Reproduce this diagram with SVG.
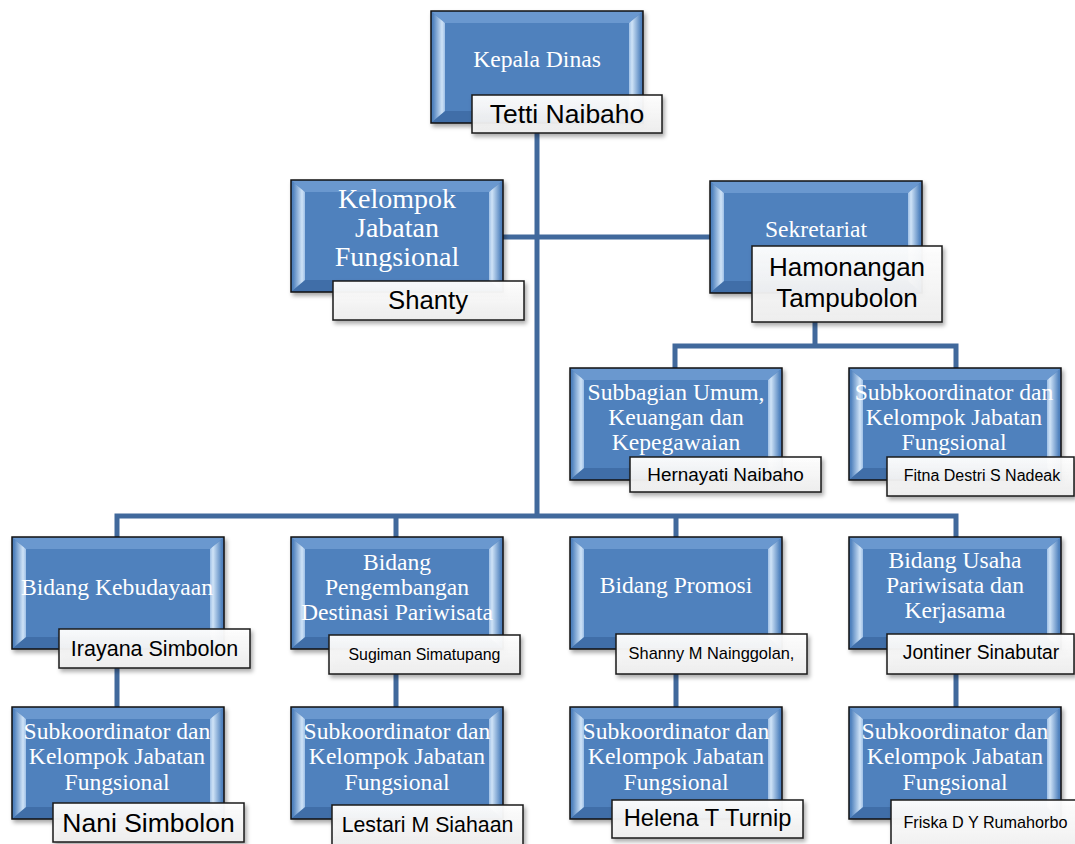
<svg xmlns="http://www.w3.org/2000/svg" xmlns:xlink="http://www.w3.org/1999/xlink" width="1075" height="844" viewBox="0 0 1075 844">
<style>
.conn{fill:none;stroke:#41699c;stroke-width:5;stroke-linejoin:miter;stroke-linecap:butt}
.bt{font-family:"Liberation Serif","Times New Roman",serif;font-size:23.6px;fill:#ffffff;text-anchor:middle}
.big{font-size:28px}
.lb{fill:url(#lg);stroke:#1a1a1a;stroke-width:1.5;filter:url(#sh)}
.lt{font-family:"Liberation Sans",Arial,sans-serif;fill:#000000;text-anchor:middle}
</style>
<defs>
<filter id="sh" x="-10%" y="-10%" width="130%" height="140%">
<feDropShadow dx="2" dy="3" stdDeviation="2" flood-color="#000" flood-opacity="0.35"/>
</filter>
<linearGradient id="lg" x1="0" y1="0" x2="0" y2="1">
<stop offset="0" stop-color="#ffffff" stop-opacity="0.96"/>
<stop offset="1" stop-color="#efefef" stop-opacity="0.92"/>
</linearGradient>
<linearGradient id="gL" x1="0" y1="0" x2="1" y2="0">
<stop offset="0" stop-color="#4f81bd"/>
<stop offset="0.75" stop-color="#cfe3f7"/>
<stop offset="1" stop-color="#9fc0e6"/>
</linearGradient>
<linearGradient id="gR" x1="0" y1="0" x2="1" y2="0">
<stop offset="0" stop-color="#9fc0e6"/>
<stop offset="0.25" stop-color="#cfe3f7"/>
<stop offset="1" stop-color="#4f81bd"/>
</linearGradient>
<g id="bx">
<rect x="0" y="0" width="212" height="112" fill="#4f81bd"/>
<polygon points="0,0 212,0 198,12 14,12" fill="#6a98cf"/>
<polygon points="0,112 212,112 198,100 14,100" fill="#3f6ea8"/>
<polygon points="2,2 14,12 14,100 2,110" fill="url(#gL)"/>
<polygon points="210,2 198,12 198,100 210,110" fill="url(#gR)"/>
<rect x="0" y="0" width="212" height="112" fill="none" stroke="#111111" stroke-width="1.5"/>
</g>
</defs>
<rect width="1075" height="844" fill="#ffffff"/>
<g id="connectors">
<path class="conn" d="M537,133 V516"/>
<path class="conn" d="M503,237 H710"/>
<path class="conn" d="M815,322 V346 M675,368 V346 H956 V368"/>
<path class="conn" d="M117,537 V516 H956 V537 M396,516 V537 M676,516 V537"/>
<path class="conn" d="M117,668 V707 M396,674 V707 M676,674 V707 M956,674 V707"/>
</g>
<g id="kepala-dinas">
<use href="#bx" x="431" y="11" filter="url(#sh)"/>
<text class="bt" x="537" y="67">Kepala Dinas</text>
<rect class="lb" x="472" y="95" width="190" height="38"/>
<text class="lt" x="567" y="123" font-size="26.5">Tetti Naibaho</text>
</g>
<g id="kelompok-jabatan-fungsional">
<use href="#bx" x="291" y="180" filter="url(#sh)"/>
<text class="bt big" x="397" y="208">Kelompok</text>
<text class="bt big" x="397" y="237">Jabatan</text>
<text class="bt big" x="397" y="266">Fungsional</text>
<rect class="lb" x="333" y="281" width="191" height="39"/>
<text class="lt" x="428" y="309" font-size="25.7">Shanty</text>
</g>
<g id="sekretariat">
<use href="#bx" x="710" y="181" filter="url(#sh)"/>
<text class="bt" x="816" y="237">Sekretariat</text>
<rect class="lb" x="752" y="246" width="190" height="76"/>
<text class="lt" x="847" y="276" font-size="26">Hamonangan</text>
<text class="lt" x="847" y="307" font-size="26">Tampubolon</text>
</g>
<g id="subbagian-umum">
<use href="#bx" x="570" y="368" filter="url(#sh)"/>
<text class="bt" x="676" y="400" font-size="22.6">Subbagian Umum,</text>
<text class="bt" x="676" y="425" font-size="22.6">Keuangan dan</text>
<text class="bt" x="676" y="450" font-size="22.6">Kepegawaian</text>
<rect class="lb" x="630" y="457" width="191" height="35"/>
<text class="lt" x="725.5" y="481" font-size="18.9">Hernayati Naibaho</text>
</g>
<g id="subbkoordinator-sekretariat">
<use href="#bx" x="849" y="368" filter="url(#sh)"/>
<text class="bt" x="954" y="400">Subbkoordinator dan</text>
<text class="bt" x="954" y="425">Kelompok Jabatan</text>
<text class="bt" x="954" y="450">Fungsional</text>
<rect class="lb" x="887" y="457" width="187" height="39"/>
<text class="lt" x="982" y="481" font-size="16">Fitna Destri S Nadeak</text>
</g>
<g id="bidang-kebudayaan">
<use href="#bx" x="12" y="537" filter="url(#sh)"/>
<text class="bt" x="117" y="595">Bidang Kebudayaan</text>
<rect class="lb" x="59" y="629" width="191" height="39"/>
<text class="lt" x="154.5" y="656" font-size="21.5">Irayana Simbolon</text>
</g>
<g id="bidang-pengembangan">
<use href="#bx" x="291" y="537" filter="url(#sh)"/>
<text class="bt" x="397" y="570">Bidang</text>
<text class="bt" x="397" y="595">Pengembangan</text>
<text class="bt" x="397" y="620">Destinasi Pariwisata</text>
<rect class="lb" x="329" y="635" width="191" height="39"/>
<text class="lt" x="424.5" y="660" font-size="15.9">Sugiman Simatupang</text>
</g>
<g id="bidang-promosi">
<use href="#bx" x="570" y="537" filter="url(#sh)"/>
<text class="bt" x="676" y="593">Bidang Promosi</text>
<rect class="lb" x="616" y="634" width="191" height="40"/>
<text class="lt" x="711.5" y="659" font-size="16.4">Shanny M Nainggolan,</text>
</g>
<g id="bidang-usaha">
<use href="#bx" x="849" y="537" filter="url(#sh)"/>
<text class="bt" x="955" y="568">Bidang Usaha</text>
<text class="bt" x="955" y="593">Pariwisata dan</text>
<text class="bt" x="955" y="618">Kerjasama</text>
<rect class="lb" x="887" y="634" width="187" height="40"/>
<text class="lt" x="981" y="659" font-size="19.3">Jontiner Sinabutar</text>
</g>
<g id="subkoordinator-kebudayaan">
<use href="#bx" x="12" y="707" filter="url(#sh)"/>
<text class="bt" x="117" y="739">Subkoordinator dan</text>
<text class="bt" x="117" y="764">Kelompok Jabatan</text>
<text class="bt" x="117" y="790">Fungsional</text>
<rect class="lb" x="53" y="803" width="191" height="39"/>
<text class="lt" x="148.5" y="832" font-size="26.5">Nani Simbolon</text>
</g>
<g id="subkoordinator-pengembangan">
<use href="#bx" x="291" y="707" filter="url(#sh)"/>
<text class="bt" x="397" y="739">Subkoordinator dan</text>
<text class="bt" x="397" y="764">Kelompok Jabatan</text>
<text class="bt" x="397" y="790">Fungsional</text>
<rect class="lb" x="332" y="805" width="191" height="40"/>
<text class="lt" x="427.5" y="832" font-size="21.3">Lestari M Siahaan</text>
</g>
<g id="subkoordinator-promosi">
<use href="#bx" x="570" y="707" filter="url(#sh)"/>
<text class="bt" x="676" y="739">Subkoordinator dan</text>
<text class="bt" x="676" y="764">Kelompok Jabatan</text>
<text class="bt" x="676" y="790">Fungsional</text>
<rect class="lb" x="612" y="800" width="191" height="38"/>
<text class="lt" x="707.5" y="826" font-size="23.7">Helena T Turnip</text>
</g>
<g id="subkoordinator-usaha">
<use href="#bx" x="849" y="707" filter="url(#sh)"/>
<text class="bt" x="955" y="739">Subkoordinator dan</text>
<text class="bt" x="955" y="764">Kelompok Jabatan</text>
<text class="bt" x="955" y="790">Fungsional</text>
<rect class="lb" x="891" y="800" width="200" height="60"/>
<text class="lt" x="985.5" y="828" font-size="16.2">Friska D Y Rumahorbo</text>
</g>
</svg>
